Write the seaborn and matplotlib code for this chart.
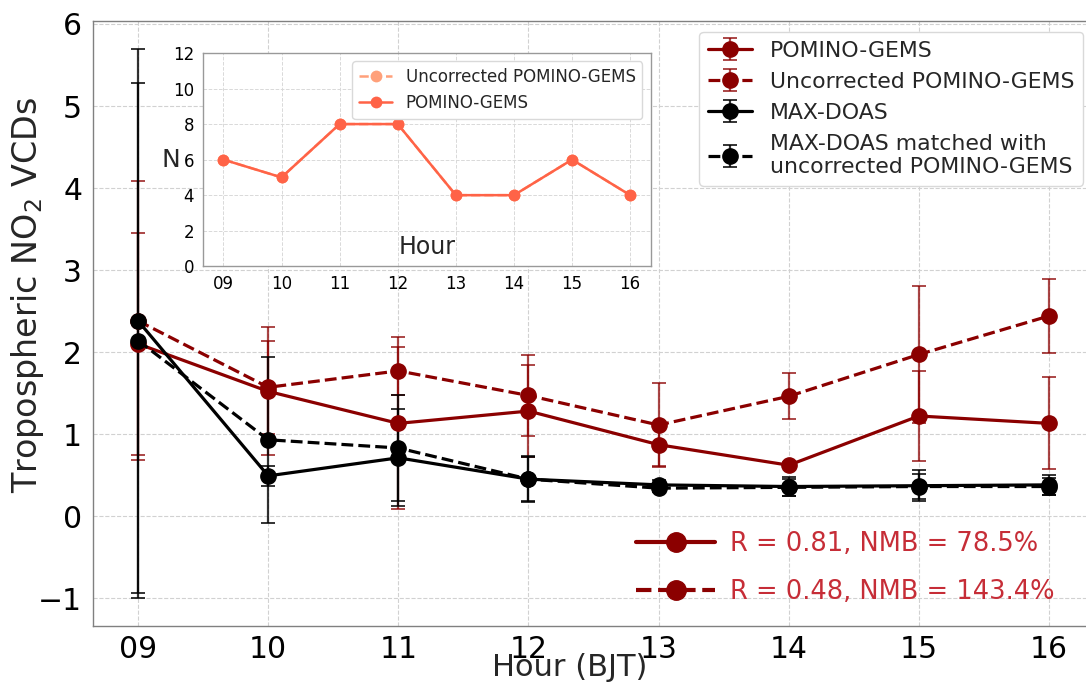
import numpy as np
import matplotlib
matplotlib.use("Agg")
import matplotlib.pyplot as plt
from matplotlib.lines import Line2D
import seaborn as sns

# ---------------- data ----------------
hours = [9, 10, 11, 12, 13, 14, 15, 16]
hour_labels = ["09", "10", "11", "12", "13", "14", "15", "16"]

pomino = [2.10, 1.52, 1.13, 1.28, 0.87, 0.62, 1.22, 1.13]
pomino_err = [1.35, 0.78, 1.05, 0.56, 0.26, 0.04, 0.55, 0.56]

uncorr = [2.38, 1.57, 1.77, 1.47, 1.11, 1.46, 1.97, 2.44]
uncorr_err = [1.70, 0.57, 0.29, 0.49, 0.51, 0.28, 0.83, 0.45]

maxdoas = [2.38, 0.49, 0.71, 0.45, 0.38, 0.36, 0.37, 0.38]
maxdoas_err = [3.32, 0.12, 0.59, 0.28, 0.06, 0.12, 0.19, 0.12]

matched = [2.14, 0.93, 0.83, 0.45, 0.34, 0.35, 0.36, 0.36]
matched_err = [3.14, 1.01, 0.65, 0.27, 0.05, 0.10, 0.15, 0.10]

n_uncorr = [6, 5, 8, 8, 4, 4, 6, 4]
n_pomino = [6, 5, 8, 8, 4, 4, 6, 4]

stat_labels = ["R = 0.81, NMB = 78.5%", "R = 0.48, NMB = 143.4%"]

# ---------------- style ----------------
sns.set_theme(style="whitegrid")
plt.rcParams["font.family"] = ["DejaVu Sans"]
plt.rcParams["axes.unicode_minus"] = True

RED = "#8b0000"
RED_E = (0.545, 0.0, 0.0, 0.72)
BLK_E = (0.0, 0.0, 0.0, 0.8)

fig = plt.figure(figsize=(10.86, 6.88), dpi=100)
ax = fig.add_axes([0.0852, 0.0908, 0.9227, 0.8785])
ax.set_facecolor("white")

common = dict(marker="o", markersize=11, lw=2.3, capsize=5, capthick=1.4,
              elinewidth=1.6)
ax.errorbar(hours, pomino, yerr=pomino_err, color=RED, ecolor=RED_E,
            ls="-", label="POMINO-GEMS", **common)
ax.errorbar(hours, uncorr, yerr=uncorr_err, color=RED, ecolor=RED_E,
            ls="--", label="Uncorrected POMINO-GEMS", **common)
ax.errorbar(hours, maxdoas, yerr=maxdoas_err, color="black", ecolor=BLK_E,
            ls="-", label="MAX-DOAS", **common)
ax.errorbar(hours, matched, yerr=matched_err, color="black", ecolor=BLK_E,
            ls="--", label="MAX-DOAS matched with\nuncorrected POMINO-GEMS", **common)

ax.set_xlim(8.65, 16.35)
ax.set_ylim(-1.335, 6.035)
ax.set_xticks(hours)
ax.set_xticklabels(hour_labels)
ax.set_yticks([-1, 0, 1, 2, 3, 4, 5, 6])
ax.tick_params(axis="both", labelsize=21.5, length=4, color="0.5",
               colors="black", direction="out")
ax.tick_params(axis="x", pad=2.5)
ax.grid(True, linestyle="--", color="0.82", lw=0.8)
for s in ax.spines.values():
    s.set_color("0.5")
    s.set_linewidth(1.0)

ax.set_xlabel("Hour (BJT)", fontsize=22)
ax.xaxis.set_label_coords(0.4766, -0.046)
ax.set_ylabel("Tropospheric NO$_2$ VCDs", fontsize=24)
ax.yaxis.set_label_coords(-0.046, 0.547)

leg1 = ax.legend(loc="upper right", bbox_to_anchor=(0.9972, 0.9535),
                 bbox_transform=fig.transFigure, fontsize=15.8, frameon=True,
                 framealpha=1, edgecolor="0.85", borderaxespad=0)

h2 = [Line2D([], [], color=RED, lw=3, ls="-", marker="o", markersize=14),
      Line2D([], [], color=RED, lw=3, ls="--", marker="o", markersize=14)]
leg2 = ax.legend(h2, stat_labels, loc="center", bbox_to_anchor=(0.778, 0.174),
                 bbox_transform=fig.transFigure, frameon=False, fontsize=18.5,
                 labelcolor="#c62d37", handlelength=3.1, labelspacing=0.85,
                 handletextpad=0.55)
ax.add_artist(leg1)

# ---------------- inset ----------------
axin = fig.add_axes([0.187, 0.613, 0.412, 0.310])
axin.set_facecolor("white")
sns.lineplot(x=hours, y=n_uncorr, ax=axin, color="lightsalmon", marker="o",
             markersize=8.5, markeredgewidth=0, linestyle="--", lw=1.8,
             label="Uncorrected POMINO-GEMS")
sns.lineplot(x=hours, y=n_pomino, ax=axin, color="tomato", marker="o",
             markersize=8.5, markeredgewidth=0, linestyle="-", lw=1.8,
             label="POMINO-GEMS")
axin.set_xlim(8.65, 16.35)
axin.set_ylim(0, 12)
axin.set_xticks(hours)
axin.set_xticklabels(hour_labels)
axin.set_yticks([0, 2, 4, 6, 8, 10, 12])
axin.tick_params(axis="both", labelsize=12, length=3, color="0.5",
                 colors="black")
axin.grid(True, linestyle="--", color="0.85", lw=0.7)
for s in axin.spines.values():
    s.set_color("0.6")
    s.set_linewidth(1.0)
axin.set_xlabel("Hour", fontsize=17)
axin.xaxis.set_label_coords(0.5, 0.145)
axin.set_ylabel("N", fontsize=18, rotation=0, ha="right", va="center")
axin.yaxis.set_label_coords(-0.05, 0.5)
axin.legend(loc="upper right", fontsize=12, frameon=True, framealpha=1,
            edgecolor="0.85")

fig.savefig("out.png", dpi=100)
